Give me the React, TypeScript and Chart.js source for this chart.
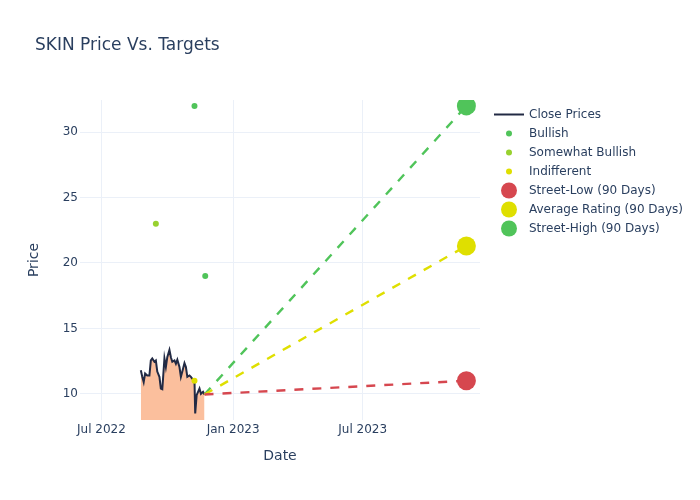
import React, { useEffect, useRef } from "react";
import { Chart, registerables } from "chart.js";

Chart.register(...registerables);

const titleText = "SKIN Price Vs. Targets";

const closeDates = [
  "2022-08-25", "2022-08-27", "2022-08-29", "2022-08-31", "2022-09-03", "2022-09-06",
  "2022-09-08", "2022-09-10", "2022-09-13", "2022-09-15", "2022-09-17", "2022-09-20",
  "2022-09-22", "2022-09-24", "2022-09-27", "2022-09-29", "2022-10-01", "2022-10-04",
  "2022-10-06", "2022-10-08", "2022-10-11", "2022-10-13", "2022-10-15", "2022-10-18",
  "2022-10-20", "2022-10-22", "2022-10-25", "2022-10-27", "2022-10-29", "2022-11-01",
  "2022-11-03", "2022-11-05", "2022-11-08", "2022-11-09", "2022-11-11", "2022-11-13",
  "2022-11-15", "2022-11-17", "2022-11-20", "2022-11-22",
];
const closePrices = [
  11.8, 11.3, 10.9, 11.55, 11.4, 11.4, 12.55, 12.7, 12.45, 12.55, 11.7, 11.3,
  10.4, 10.35, 12.7, 12.05, 12.8, 13.35, 12.8, 12.45, 12.55, 12.3, 12.6, 12.05,
  11.3, 11.7, 12.35, 12.05, 11.3, 11.4, 11.3, 11.15, 11.0, 8.5, 9.9, 10.15,
  10.4, 10.0, 10.15, 9.95,
];

const bullishDates = ["2022-11-08", "2022-11-23"];
const bullishTargets = [32, 19];
const somewhatBullishDates = ["2022-09-15"];
const somewhatBullishTargets = [23];
const indifferentDates = ["2022-11-08"];
const indifferentTargets = [11];

const targetDate = "2023-11-23";
const streetLow = 11;
const averageRating = 21.3;
const streetHigh = 32;

const xTickDates = ["2022-07-01", "2023-01-01", "2023-07-01"];
const yTicks = [10, 15, 20, 25, 30];
const xRange = ["2022-06-01", "2023-12-12"];
const yRange = [8.0, 32.45];

const monthNames = ["Jan", "Feb", "Mar", "Apr", "May", "Jun", "Jul", "Aug", "Sep", "Oct", "Nov", "Dec"];

const ts = (s: string) => Date.parse(s + "T00:00:00Z");

const FONT = "'DejaVu Sans', sans-serif";
const TEXT = "#2a3f5f";
const GRID = "#ebf0f8";

const COL_CLOSE = "#222a44";
const COL_FILL = "#fbbf9d";
const COL_BULL = "#50c45a";
const COL_SBULL = "#98d12f";
const COL_IND = "#dfdf00";
const COL_LOW = "#d6474f";
const COL_AVG = "#dfdf00";
const COL_HIGH = "#50c45a";

const overlayPlugin = {
  id: "overlay",
  afterDraw(chart: any) {
    const ctx = chart.ctx as CanvasRenderingContext2D;
    ctx.save();
    ctx.fillStyle = TEXT;
    ctx.font = `17px ${FONT}`;
    ctx.textBaseline = "alphabetic";
    ctx.textAlign = "left";
    ctx.fillText(titleText, 35, 50);

    ctx.font = `12px ${FONT}`;
    ctx.textBaseline = "middle";
    let y = 114.5;
    chart.data.datasets.forEach((ds: any) => {
      if (!ds.legendSymbol) return;
      const sx = 509;
      if (ds.legendSymbol === "line") {
        ctx.strokeStyle = ds.borderColor;
        ctx.lineWidth = 2;
        ctx.beginPath();
        ctx.moveTo(494, y);
        ctx.lineTo(524, y);
        ctx.stroke();
      } else {
        const r = ds.legendSymbol === "big" ? 8 : 3;
        ctx.fillStyle = ds.pointBackgroundColor;
        ctx.beginPath();
        ctx.arc(sx, y, r, 0, Math.PI * 2);
        ctx.fill();
      }
      ctx.fillStyle = TEXT;
      ctx.fillText(ds.label, 529, y);
      y += 19;
    });
    ctx.restore();
  },
};

export default function App() {
  const ref = useRef<HTMLCanvasElement | null>(null);

  useEffect(() => {
    if (!ref.current) return;
    document.body.style.margin = "0";

    const lastX = ts(closeDates[closeDates.length - 1]);
    const lastY = closePrices[closePrices.length - 1];
    const tX = ts(targetDate);

    const pointSet = (label: string, dates: string[], vals: number[], color: string, r: number, symbol: string, order: number) => ({
      label,
      data: dates.map((d, i) => ({ x: ts(d), y: vals[i] })),
      showLine: false,
      pointRadius: r,
      pointHoverRadius: r,
      pointBackgroundColor: color,
      pointBorderWidth: 0,
      borderColor: color,
      backgroundColor: color,
      legendSymbol: symbol,
      order,
    });

    const dashSet = (value: number, color: string) => ({
      label: "",
      data: [
        { x: lastX, y: lastY },
        { x: tX, y: value },
      ],
      borderColor: color,
      borderWidth: 2.4,
      borderDash: [9, 9],
      pointRadius: 0,
      fill: false,
      order: 5,
    });

    const chart = new Chart(ref.current, {
      type: "line",
      data: {
        datasets: [
          {
            label: "Close Prices",
            data: closeDates.map((d, i) => ({ x: ts(d), y: closePrices[i] })),
            borderColor: COL_CLOSE,
            borderWidth: 2,
            backgroundColor: COL_FILL,
            fill: "origin",
            pointRadius: 0,
            tension: 0,
            legendSymbol: "line",
            order: 10,
          } as any,
          pointSet("Bullish", bullishDates, bullishTargets, COL_BULL, 3, "small", 3),
          pointSet("Somewhat Bullish", somewhatBullishDates, somewhatBullishTargets, COL_SBULL, 3, "small", 3),
          pointSet("Indifferent", indifferentDates, indifferentTargets, COL_IND, 3, "small", 3),
          pointSet("Street-Low (90 Days)", [targetDate], [streetLow], COL_LOW, 9.5, "big", 1),
          pointSet("Average Rating (90 Days)", [targetDate], [averageRating], COL_AVG, 9.5, "big", 1),
          pointSet("Street-High (90 Days)", [targetDate], [streetHigh], COL_HIGH, 9.5, "big", 1),
          dashSet(streetLow, COL_LOW),
          dashSet(averageRating, COL_AVG),
          dashSet(streetHigh, COL_HIGH),
        ] as any,
      },
      options: {
        responsive: false,
        animation: false,
        events: [],
        layout: { padding: { top: 100, right: 220, left: 0, bottom: 0 } },
        plugins: {
          legend: { display: false },
          tooltip: { enabled: false },
          title: { display: false },
        },
        scales: {
          x: {
            type: "linear",
            min: ts(xRange[0]),
            max: ts(xRange[1]),
            afterBuildTicks: (axis: any) => {
              axis.ticks = xTickDates.map((d) => ({ value: ts(d) }));
            },
            afterFit: (axis: any) => {
              axis.height = 80;
            },
            ticks: {
              autoSkip: false,
              maxRotation: 0,
              padding: 3,
              color: TEXT,
              font: { family: FONT, size: 12 },
              callback: (v: any) => {
                const d = new Date(Number(v));
                return `${monthNames[d.getUTCMonth()]} ${d.getUTCFullYear()}`;
              },
            },
            grid: { color: GRID, lineWidth: 1, drawTicks: false },
            border: { display: false },
            title: {
              display: true,
              text: "Date",
              color: TEXT,
              font: { family: FONT, size: 14 },
              padding: { top: 0, bottom: 35.6 },
            },
          },
          y: {
            type: "linear",
            min: yRange[0],
            max: yRange[1],
            afterBuildTicks: (axis: any) => {
              axis.ticks = yTicks.map((v) => ({ value: v }));
            },
            afterFit: (axis: any) => {
              axis.width = 80;
            },
            ticks: {
              padding: 2,
              color: TEXT,
              font: { family: FONT, size: 12 },
            },
            grid: { color: GRID, lineWidth: 1, drawTicks: false },
            border: { display: false },
            title: {
              display: true,
              text: "Price",
              color: TEXT,
              font: { family: FONT, size: 14 },
              padding: { top: 25.6, bottom: 0 },
            },
          },
        },
      } as any,
      plugins: [overlayPlugin as any],
    });

    return () => chart.destroy();
  }, []);

  return (
    <div style={{ position: "absolute", left: 0, top: 0, width: 700, height: 500, background: "#fff" }}>
      <canvas ref={ref} width={700} height={500} style={{ width: 700, height: 500, display: "block" }} />
    </div>
  );
}
